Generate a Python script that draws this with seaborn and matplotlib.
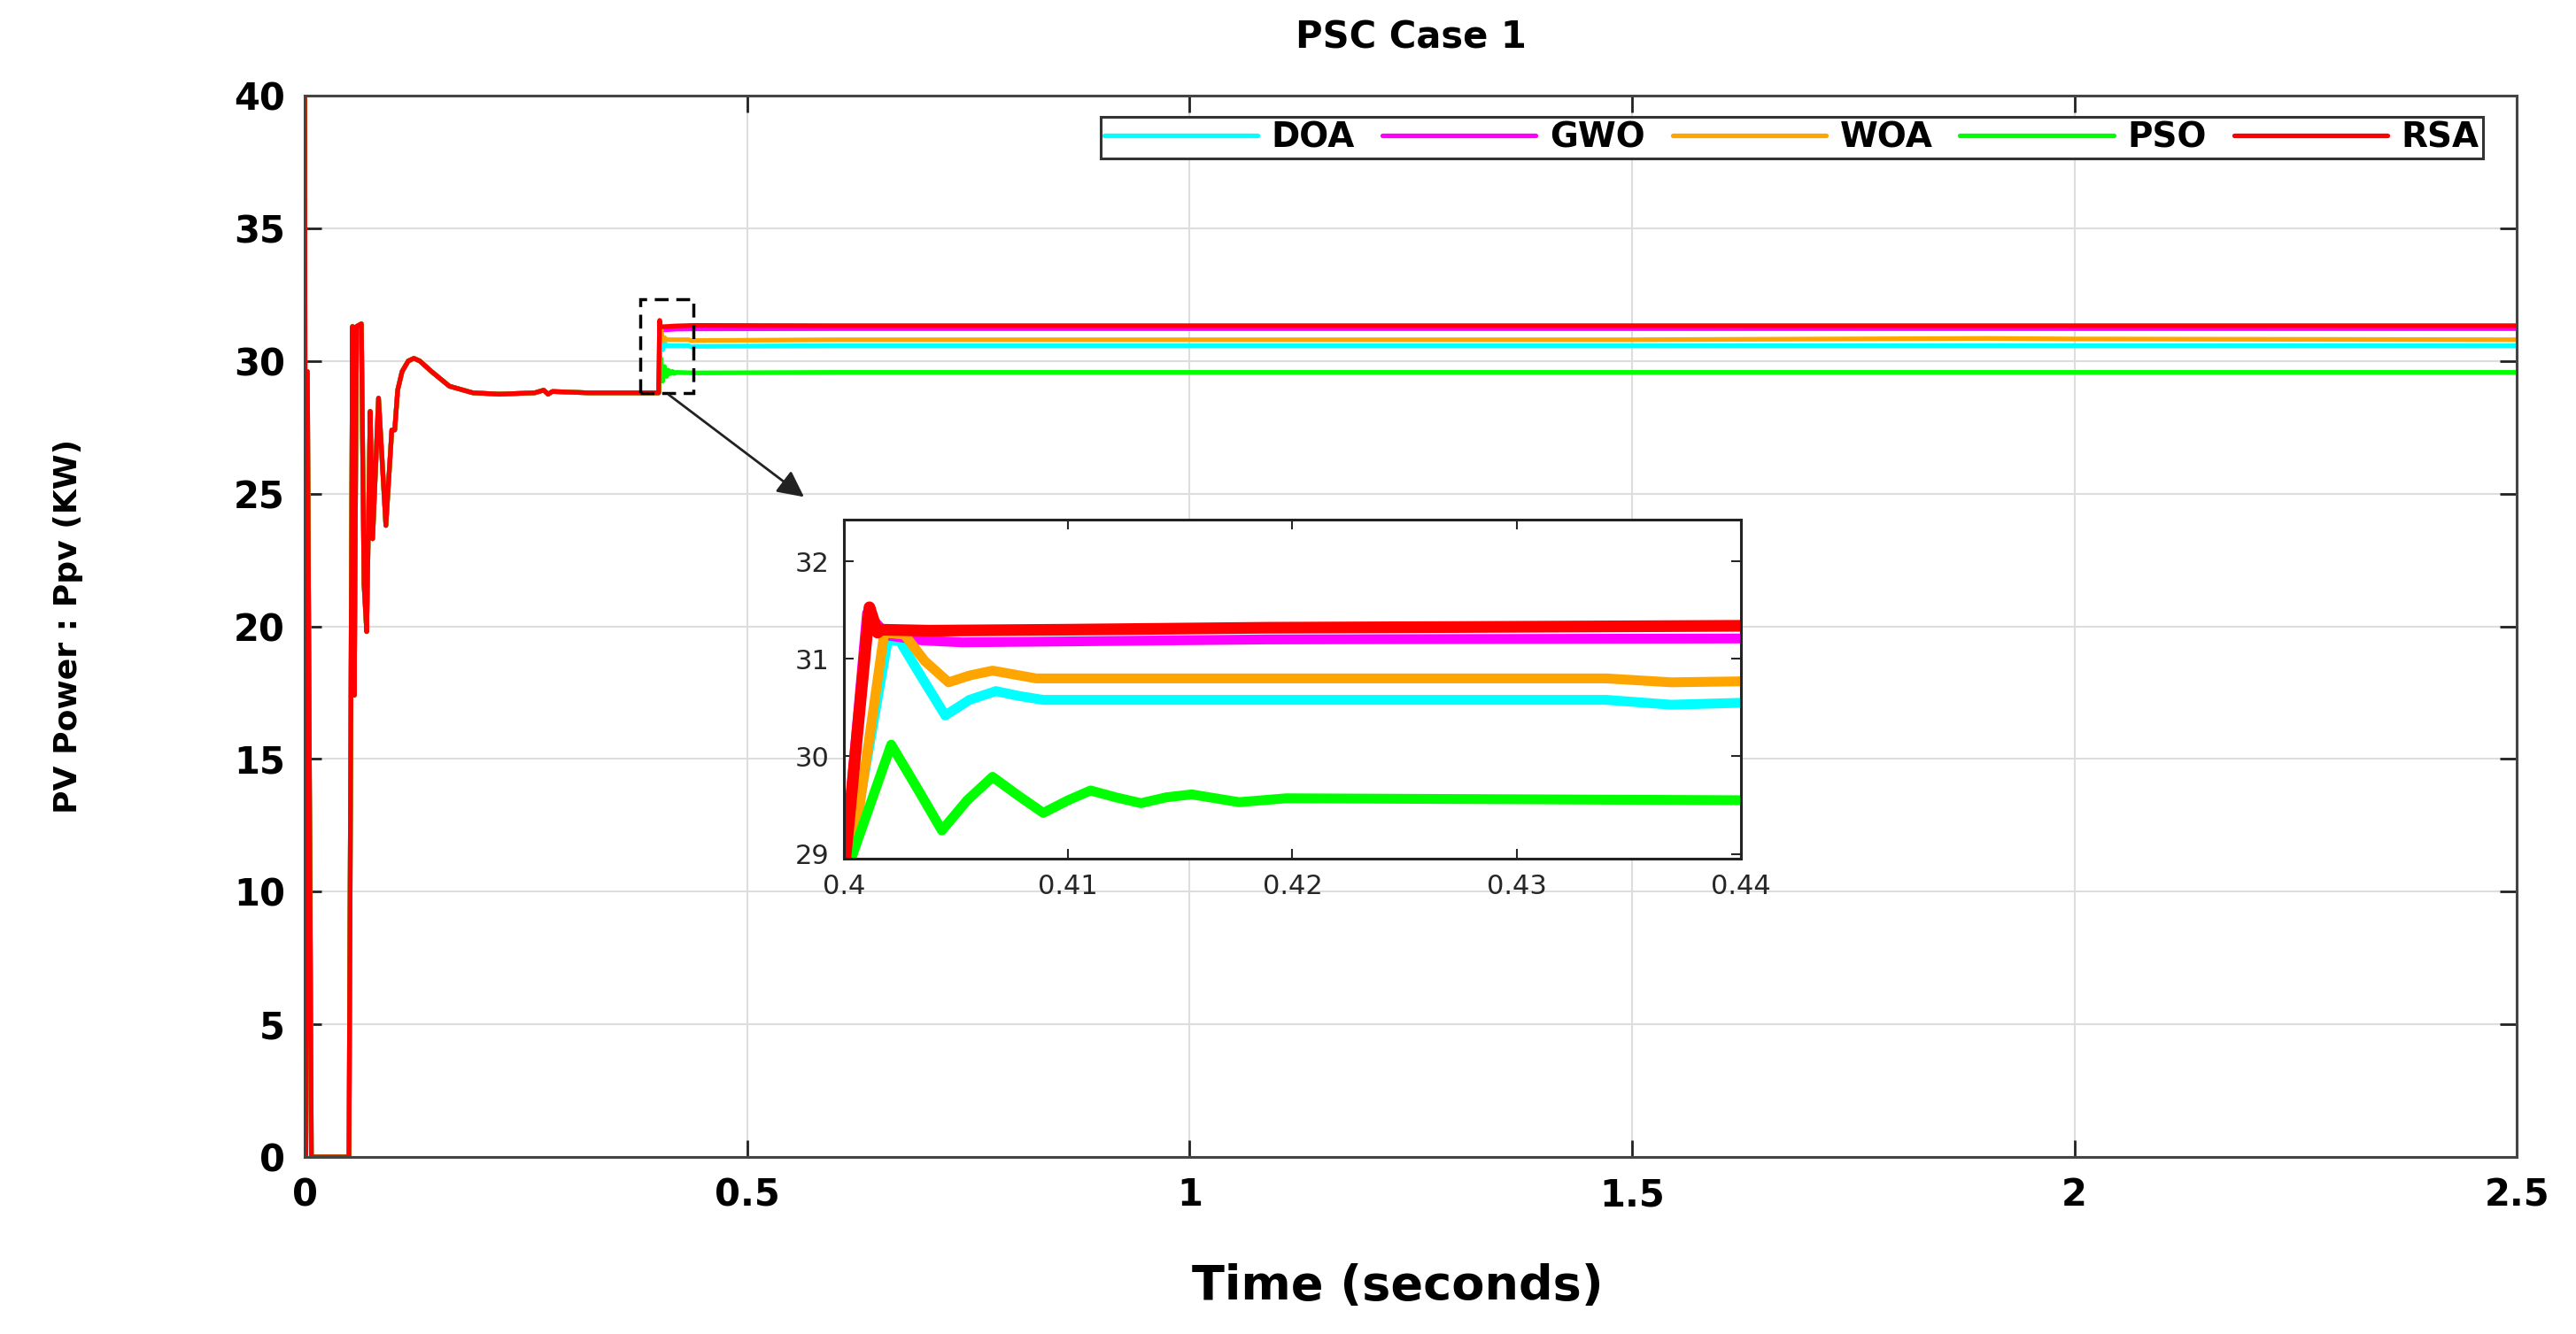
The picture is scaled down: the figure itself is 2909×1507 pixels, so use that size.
import numpy as np
import pandas as pd
import matplotlib
matplotlib.use("Agg")
import matplotlib.pyplot as plt
import seaborn as sns
from matplotlib.patches import Rectangle

#%%
##### DATA #####
algos = ["DOA", "GWO", "WOA", "PSO", "RSA"]
colors = {"DOA": "#00FFFF", "GWO": "#FF00FF", "WOA": "#FFA500",
          "PSO": "#00FF00", "RSA": "#FF0000"}

# common start-up transient (all algorithms identical before 0.4 s)
t_start = [0.0, 0.0012, 0.003, 0.0075, 0.050, 0.054, 0.056, 0.0585, 0.064,
           0.067, 0.070, 0.074, 0.0767, 0.0834, 0.0917, 0.0984, 0.1017,
           0.105, 0.110, 0.117, 0.1234, 0.130, 0.1434, 0.1635, 0.190,
           0.220, 0.260, 0.270, 0.275, 0.280, 0.320, 0.360, 0.400]
p_start = [40.0, 0.0, 29.6, 0.0, 0.0, 31.3, 17.4, 31.3, 31.4,
           21.6, 19.8, 28.1, 23.3, 28.6, 23.8, 27.4, 27.4,
           28.9, 29.6, 30.0, 30.1, 30.0, 29.6, 29.05, 28.8,
           28.75, 28.8, 28.9, 28.75, 28.85, 28.8, 28.8, 28.8]

# response after the irradiance change at 0.4 s
doa_t = [0.4003, 0.40196, 0.4025, 0.4035, 0.40452, 0.4056, 0.40678, 0.4078,
         0.40889, 0.434, 0.4369, 0.44, 0.6, 1.0, 1.5, 2.0, 2.5]
doa_p = [29.0, 31.2, 31.18, 30.8, 30.42, 30.58, 30.67, 30.62,
         30.58, 30.58, 30.53, 30.55, 30.58, 30.58, 30.58, 30.58, 30.58]

gwo_t = [0.40103, 0.40196, 0.4035, 0.40527, 0.41, 0.4188, 0.44,
         0.6, 1.0, 1.5, 2.0, 2.5]
gwo_p = [31.47, 31.24, 31.19, 31.17, 31.18, 31.2, 31.21,
         31.22, 31.22, 31.22, 31.22, 31.22]

woa_t = [0.4004, 0.4018, 0.4027, 0.4036, 0.40467, 0.4056, 0.40663, 0.4076,
         0.40858, 0.42, 0.434, 0.4369, 0.44, 0.6, 1.0, 1.5, 1.9, 2.0, 2.5]
woa_p = [29.0, 31.27, 31.25, 30.98, 30.76, 30.83, 30.88, 30.84,
         30.8, 30.8, 30.8, 30.76, 30.77, 30.8, 30.8, 30.8, 30.85, 30.83, 30.8]

pso_t = [0.4004, 0.40211, 0.4032, 0.40437, 0.4055, 0.40663, 0.40776, 0.40889,
         0.41, 0.411, 0.41212, 0.41325, 0.41438, 0.41551, 0.41762, 0.41973,
         0.44, 0.6, 1.0, 1.5, 2.0, 2.5]
pso_p = [29.0, 30.12, 29.7, 29.24, 29.55, 29.79, 29.6, 29.42,
         29.55, 29.65, 29.58, 29.52, 29.58, 29.61, 29.53, 29.57,
         29.55, 29.57, 29.57, 29.57, 29.57, 29.57]

rsa_t = [0.40114, 0.4015, 0.40166, 0.4038, 0.41, 0.4188, 0.43, 0.44,
         0.6, 1.0, 1.5, 2.0, 2.5]
rsa_p = [31.53, 31.27, 31.3, 31.29, 31.3, 31.32, 31.33, 31.34,
         31.33, 31.33, 31.33, 31.33, 31.33]

x_ticks = [0, 0.5, 1, 1.5, 2, 2.5]
x_labels = ["0", "0.5", "1", "1.5", "2", "2.5"]
y_ticks = [0, 5, 10, 15, 20, 25, 30, 35, 40]
in_x_ticks = [0.40, 0.41, 0.42, 0.43, 0.44]
in_x_labels = ["0.4", "0.41", "0.42", "0.43", "0.44"]
in_y_ticks = [29, 30, 31, 32]
##### END DATA #####

#%%
post = {"DOA": (doa_t, doa_p), "GWO": (gwo_t, gwo_p), "WOA": (woa_t, woa_p),
        "PSO": (pso_t, pso_p), "RSA": (rsa_t, rsa_p)}

frames = []
for name in algos:
    tt, pp = post[name]
    frames.append(pd.DataFrame({"Time": t_start + tt,
                                "Power": p_start + pp,
                                "Algorithm": name}))
df = pd.concat(frames, ignore_index=True)

#%%
sns.set_style("ticks")
plt.rcParams["font.family"] = ["DejaVu Sans"]
plt.rcParams["text.color"] = "black"
plt.rcParams["axes.labelcolor"] = "black"

fig = plt.figure(figsize=(29.09, 15.07), dpi=100)
ax = fig.add_axes([0.1183, 0.1327, 0.9770 - 0.1183, 0.9283 - 0.1327])

sns.lineplot(data=df, x="Time", y="Power", hue="Algorithm", hue_order=algos,
             palette=colors, estimator=None, sort=False, linewidth=3.8, ax=ax)

ax.set_xlim(0, 2.5)
ax.set_ylim(0, 40)
ax.set_xticks(x_ticks)
ax.set_xticklabels(x_labels)
ax.set_yticks(y_ticks)
ax.grid(True, color="#dddddd", linewidth=1.5)
ax.tick_params(direction="in", top=True, right=True, length=14, width=2,
               labelsize=30, pad=16, colors="#222222", labelcolor="black")
for lab in ax.get_xticklabels() + ax.get_yticklabels():
    lab.set_fontweight("bold")
for s in ax.spines.values():
    s.set_color("#444444")
    s.set_linewidth(2.2)

ax.set_xlabel("Time (seconds)", fontsize=39, fontweight="bold")
ax.set_ylabel("PV Power : Ppv (KW)", fontsize=26, fontweight="bold")
ax.xaxis.set_label_coords(0.494, -0.1)
ax.yaxis.set_label_coords(-0.1, 0.5)
ax.set_title("PSC Case 1", fontsize=30, fontweight="bold", y=1.045, pad=0)

# legend
handles, labels = ax.get_legend_handles_labels()
leg = ax.legend(handles, labels, ncol=5, loc="upper right",
                bbox_to_anchor=(0.9848, 0.98), borderaxespad=0,
                prop=dict(weight="bold", size=28), handlelength=4.45,
                handletextpad=0.4, columnspacing=0.8, borderpad=0.12,
                frameon=True, fancybox=False, edgecolor="#333333",
                framealpha=1)
leg.get_frame().set_linewidth(2.2)

# zoom box and arrow
ax.add_patch(Rectangle((0.379, 28.79), 0.06, 3.54, fill=False,
                       edgecolor="black", linewidth=2.5,
                       linestyle=(0, (4.5, 2.5)), zorder=5))
ax.annotate("", xy=(0.5665, 24.82), xytext=(0.409, 28.79),
            arrowprops=dict(arrowstyle="-|>", color="#222222", lw=2,
                            mutation_scale=45), zorder=6)

#%%
# inset
axins = fig.add_axes([0.3276, 0.3563, 0.6758 - 0.3276, 0.6105 - 0.3563])
sub = df[(df["Time"] >= 0.399) & (df["Time"] <= 0.6)]
sns.lineplot(data=sub, x="Time", y="Power", hue="Algorithm", hue_order=algos,
             palette=colors, estimator=None, sort=False, linewidth=8,
             legend=False, ax=axins)
for ln in axins.get_lines():
    if ln.get_color() in ("#FF0000", "#ff0000"):
        ln.set_linewidth(9.5)
axins.set_xlim(0.4, 0.44)
axins.set_ylim(28.95, 32.43)
axins.set_xticks(in_x_ticks)
axins.set_xticklabels(in_x_labels)
axins.set_yticks(in_y_ticks)
axins.set_xlabel("")
axins.set_ylabel("")
axins.tick_params(direction="in", top=True, right=True, length=8, width=1.5,
                  labelsize=22, pad=12)
for s in axins.spines.values():
    s.set_color("#222222")
    s.set_linewidth(2.2)

fig.savefig("out.png", dpi=100)
